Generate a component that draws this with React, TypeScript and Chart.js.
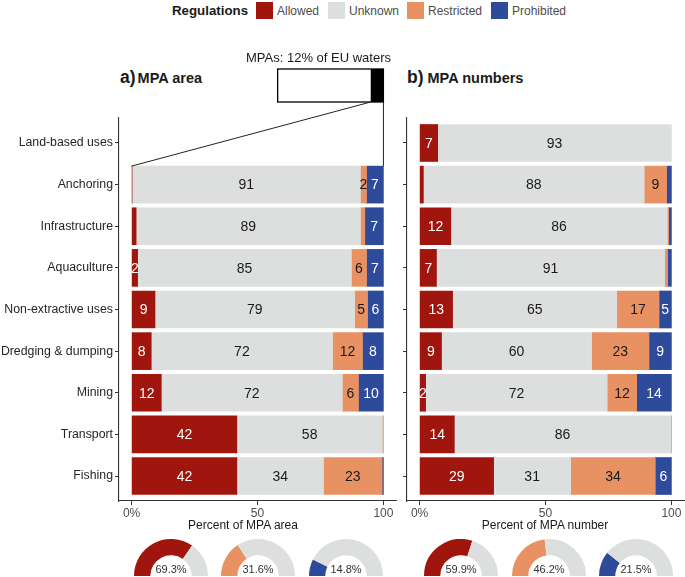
import React, { useEffect, useRef } from 'react';
import { Chart, registerables } from 'chart.js';

Chart.register(...registerables);

const FONT = '"Liberation Sans", Arial, Helvetica, sans-serif';
Chart.defaults.font.family = FONT;

// ---------- data ----------
const CATEGORIES = [
  'Land-based uses',
  'Anchoring',
  'Infrastructure',
  'Aquaculture',
  'Non-extractive uses',
  'Dredging & dumping',
  'Mining',
  'Transport',
  'Fishing',
];
const SERIES = ['Allowed', 'Unknown', 'Restricted', 'Prohibited'];
const COLORS = ['#A0160E', '#DCDFDE', '#E89263', '#2E4A9B'];
const LABEL_COLORS = ['#FFFFFF', '#1A1A1A', '#1A1A1A', '#FFFFFF'];

// a) Percent of MPA area
const AREA_ALLOWED = [0, 0.2, 1.8, 2.4, 9.3, 7.8, 11.8, 41.8, 41.8];
const AREA_UNKNOWN = [0, 90.7, 89.1, 84.9, 79.3, 72.0, 71.9, 57.8, 34.4];
const AREA_RESTRICTED = [0, 2.4, 1.7, 6.0, 5.1, 11.9, 6.4, 0.4, 23.3];
const AREA_PROHIBITED = [0, 6.7, 7.4, 6.7, 6.3, 8.3, 9.9, 0, 0.5];

// b) Percent of MPA number
const NUMBER_ALLOWED = [7.2, 1.5, 12.4, 6.7, 13.1, 8.7, 2.4, 13.8, 29.4];
const NUMBER_UNKNOWN = [92.8, 87.7, 86.0, 90.6, 65.2, 59.6, 72.1, 85.9, 30.6];
const NUMBER_RESTRICTED = [0, 8.9, 0.5, 1.2, 16.8, 22.8, 11.7, 0.3, 33.6];
const NUMBER_PROHIBITED = [0, 1.9, 1.1, 1.5, 4.9, 8.9, 13.8, 0, 6.4];

const X_TICKS = [0, 50, 100];
const X_TICK_LABELS = ['0%', '50', '100'];

// gauges: Allowed, Restricted, Prohibited
const GAUGE_SERIES = [0, 2, 3];
const AREA_GAUGE = [69.3, 31.6, 14.8];
const NUMBER_GAUGE = [59.9, 46.2, 21.5];

const EU_SHARE = 12;
const INSET_TEXT = `MPAs: ${EU_SHARE}% of EU waters`;

// ---------- plugins ----------
const valueLabelPlugin = {
  id: 'valueLabels',
  afterDatasetsDraw(chart: any) {
    const ctx = chart.ctx;
    ctx.save();
    ctx.font = `14px ${FONT}`;
    ctx.textAlign = 'center';
    ctx.textBaseline = 'middle';
    chart.data.datasets.forEach((ds: any, k: number) => {
      const meta = chart.getDatasetMeta(k);
      meta.data.forEach((el: any, i: number) => {
        const v = ds.data[i].x;
        if (v === null || v < 2) return;
        const { x, y, base } = el.getProps(['x', 'y', 'base'], true);
        ctx.fillStyle = LABEL_COLORS[k];
        ctx.fillText(String(Math.round(v)), (x + base) / 2, y + 1);
      });
    });
    ctx.restore();
  },
};

const insetPlugin = {
  id: 'inset',
  afterDraw(chart: any) {
    const ctx = chart.ctx;
    const xs = chart.scales.x;
    const ca = chart.chartArea;
    const rectLeft = xs.getPixelForValue(58);
    const rectRight = xs.getPixelForValue(100);
    const rectTop = ca.top - 49;
    const rectBottom = ca.top - 16;
    const blackLeft = rectRight - ((rectRight - rectLeft) * EU_SHARE) / 100;
    const el = chart.getDatasetMeta(1).data[1];
    const barTop = el.y - el.height / 2;
    ctx.save();
    ctx.fillStyle = '#FFFFFF';
    ctx.fillRect(rectLeft, rectTop, rectRight - rectLeft, rectBottom - rectTop);
    ctx.fillStyle = '#000000';
    ctx.fillRect(blackLeft, rectTop, rectRight - blackLeft, rectBottom - rectTop);
    ctx.strokeStyle = '#000000';
    ctx.lineWidth = 1.3;
    ctx.strokeRect(rectLeft, rectTop, rectRight - rectLeft, rectBottom - rectTop);
    ctx.lineWidth = 1;
    ctx.strokeStyle = '#222222';
    ctx.beginPath();
    ctx.moveTo(blackLeft, rectBottom);
    ctx.lineTo(xs.getPixelForValue(0), barTop);
    ctx.moveTo(rectRight, rectBottom);
    ctx.lineTo(xs.getPixelForValue(100), barTop);
    ctx.stroke();
    ctx.fillStyle = '#1A1A1A';
    ctx.font = `13px ${FONT}`;
    ctx.textAlign = 'center';
    ctx.textBaseline = 'middle';
    ctx.fillText(INSET_TEXT, (rectLeft + rectRight) / 2 - 12, ca.top - 60);
    ctx.restore();
  },
};

const gaugeTextPlugin = {
  id: 'gaugeText',
  afterDraw(chart: any) {
    const arc = chart.getDatasetMeta(0).data[0];
    const v = chart.data.datasets[0].data[0];
    const ctx = chart.ctx;
    ctx.save();
    ctx.font = `11px ${FONT}`;
    ctx.fillStyle = '#333333';
    ctx.textAlign = 'center';
    ctx.textBaseline = 'middle';
    ctx.fillText(`${v.toFixed(1)}%`, arc.x, arc.y - 6);
    ctx.restore();
  },
};

// ---------- components ----------
type BarPanelProps = {
  values: number[][];
  left: number;
  width: number;
  axisWidth: number;
  padRight: number;
  showCategoryLabels: boolean;
  withInset: boolean;
};

const Y_MIN = -0.6;
const Y_MAX = CATEGORIES.length - 1 + 0.6;

function BarPanel(p: BarPanelProps) {
  const ref = useRef<HTMLCanvasElement | null>(null);
  useEffect(() => {
    const canvas = ref.current;
    if (!canvas) return;
    const axisColor = '#333333';
    const chart = new Chart(canvas, {
      type: 'bar',
      data: {
        datasets: SERIES.map((name, k) => ({
          label: name,
          data: p.values[k].map((v, i) => ({ x: v > 0 ? v : null, y: i })),
          backgroundColor: COLORS[k],
          borderWidth: 0,
          stack: 'regs',
          barThickness: 37,
        })),
      },
      options: {
        indexAxis: 'y',
        responsive: false,
        animation: false,
        layout: { padding: { top: 73, right: p.padRight, bottom: 0, left: 0 } },
        plugins: { legend: { display: false }, tooltip: { enabled: false } },
        scales: {
          x: {
            type: 'linear',
            stacked: true,
            offset: false,
            min: -5,
            max: 105,
            position: 'bottom',
            afterBuildTicks: (s: any) => {
              s.ticks = X_TICKS.map((v) => ({ value: v }));
              s.min = -5;
              s.max = 105;
            },
            afterFit: (s: any) => {
              s.height = 31;
            },
            ticks: {
              callback: (v: any) => X_TICK_LABELS[X_TICKS.indexOf(Number(v))] ?? '',
              color: '#4D4D4D',
              font: { size: 12 },
              padding: 1,
              maxRotation: 0,
              autoSkip: false,
            },
            grid: { offset: false, drawOnChartArea: false, drawTicks: true, tickLength: 4, color: axisColor, lineWidth: 1 },
            border: { display: true, color: axisColor, width: 1.1 },
          },
          y: {
            type: 'linear',
            offset: false,
            min: Y_MIN,
            max: Y_MAX,
            reverse: true,
            afterBuildTicks: (s: any) => {
              s.ticks = CATEGORIES.map((_, i) => ({ value: i }));
              s.min = Y_MIN;
              s.max = Y_MAX;
            },
            afterFit: (s: any) => {
              s.width = p.axisWidth;
            },
            ticks: {
              display: p.showCategoryLabels,
              callback: (v: any) => CATEGORIES[Number(v)] ?? '',
              color: '#262626',
              font: { size: 12.3 },
              padding: 2,
              autoSkip: false,
            },
            grid: { offset: false, drawOnChartArea: false, drawTicks: true, tickLength: 4, color: axisColor, lineWidth: 1 },
            border: { display: true, color: axisColor, width: 1.1 },
          },
        },
      } as any,
      plugins: p.withInset ? [valueLabelPlugin, insetPlugin] : [valueLabelPlugin],
    });
    return () => chart.destroy();
  }, []);
  return (
    <canvas
      ref={ref}
      width={p.width}
      height={487}
      style={{ position: 'absolute', left: p.left, top: 45 }}
    />
  );
}

function Gauge({ value, series, cx }: { value: number; series: number; cx: number }) {
  const ref = useRef<HTMLCanvasElement | null>(null);
  useEffect(() => {
    const canvas = ref.current;
    if (!canvas) return;
    const chart = new Chart(canvas, {
      type: 'doughnut',
      data: {
        labels: [SERIES[series], 'Other'],
        datasets: [
          {
            data: [value, 100 - value],
            backgroundColor: [COLORS[series], COLORS[1]],
            borderWidth: 0,
          },
        ],
      },
      options: {
        responsive: false,
        animation: false,
        rotation: -90,
        circumference: 180,
        cutout: '56%',
        layout: { padding: 0 },
        plugins: { legend: { display: false }, tooltip: { enabled: false } },
      } as any,
      plugins: [gaugeTextPlugin],
    });
    return () => chart.destroy();
  }, []);
  return (
    <canvas
      ref={ref}
      width={74}
      height={37}
      style={{ position: 'absolute', left: cx - 37, top: 539 }}
    />
  );
}

const LEGEND_X = [256, 328, 407, 491];

export default function App() {
  const areaValues = [AREA_ALLOWED, AREA_UNKNOWN, AREA_RESTRICTED, AREA_PROHIBITED];
  const numberValues = [NUMBER_ALLOWED, NUMBER_UNKNOWN, NUMBER_RESTRICTED, NUMBER_PROHIBITED];
  const leftGaugeX = [171, 258, 346];
  const rightGaugeX = [461, 549, 636];
  return (
    <div
      style={{
        position: 'absolute',
        left: 0,
        top: 0,
        width: 685,
        height: 577,
        overflow: 'hidden',
        background: '#FFFFFF',
        fontFamily: FONT,
        color: '#1A1A1A',
      }}
    >
      {/* legend */}
      <div
        style={{
          position: 'absolute',
          left: 172,
          top: 1,
          height: 20,
          lineHeight: '20px',
          fontSize: 13.3,
          fontWeight: 'bold',
          whiteSpace: 'nowrap',
        }}
      >
        Regulations
      </div>
      {SERIES.map((s, k) => (
        <React.Fragment key={s}>
          <div
            style={{
              position: 'absolute',
              left: LEGEND_X[k],
              top: 2,
              width: 17,
              height: 17,
              background: COLORS[k],
            }}
          />
          <div
            style={{
              position: 'absolute',
              left: LEGEND_X[k] + 21,
              top: 1,
              height: 20,
              lineHeight: '20px',
              fontSize: 12,
              color: '#4D4D4D',
              whiteSpace: 'nowrap',
            }}
          >
            {s}
          </div>
        </React.Fragment>
      ))}

      {/* panel titles */}
      <div style={{ position: 'absolute', left: 120, top: 66, lineHeight: '22px', whiteSpace: 'nowrap', fontWeight: 'bold' }}>
        <span style={{ fontSize: 17.5 }}>a)</span>
        <span style={{ fontSize: 14.5, marginLeft: 2 }}>MPA area</span>
      </div>
      <div style={{ position: 'absolute', left: 407, top: 66, lineHeight: '22px', whiteSpace: 'nowrap', fontWeight: 'bold' }}>
        <span style={{ fontSize: 17.5 }}>b)</span>
        <span style={{ fontSize: 14.5, marginLeft: 4 }}>MPA numbers</span>
      </div>

      <BarPanel values={areaValues} left={0} width={400} axisWidth={119} padRight={4} showCategoryLabels={true} withInset={true} />
      <BarPanel values={numberValues} left={400} width={285} axisWidth={7} padRight={1} showCategoryLabels={false} withInset={false} />

      {/* axis titles */}
      <div style={{ position: 'absolute', left: 143, width: 200, textAlign: 'center', top: 516, lineHeight: '18px', fontSize: 12 }}>
        Percent of MPA area
      </div>
      <div style={{ position: 'absolute', left: 445, width: 200, textAlign: 'center', top: 516, lineHeight: '18px', fontSize: 12 }}>
        Percent of MPA number
      </div>

      {AREA_GAUGE.map((v, i) => (
        <Gauge key={'a' + i} value={v} series={GAUGE_SERIES[i]} cx={leftGaugeX[i]} />
      ))}
      {NUMBER_GAUGE.map((v, i) => (
        <Gauge key={'n' + i} value={v} series={GAUGE_SERIES[i]} cx={rightGaugeX[i]} />
      ))}
    </div>
  );
}
